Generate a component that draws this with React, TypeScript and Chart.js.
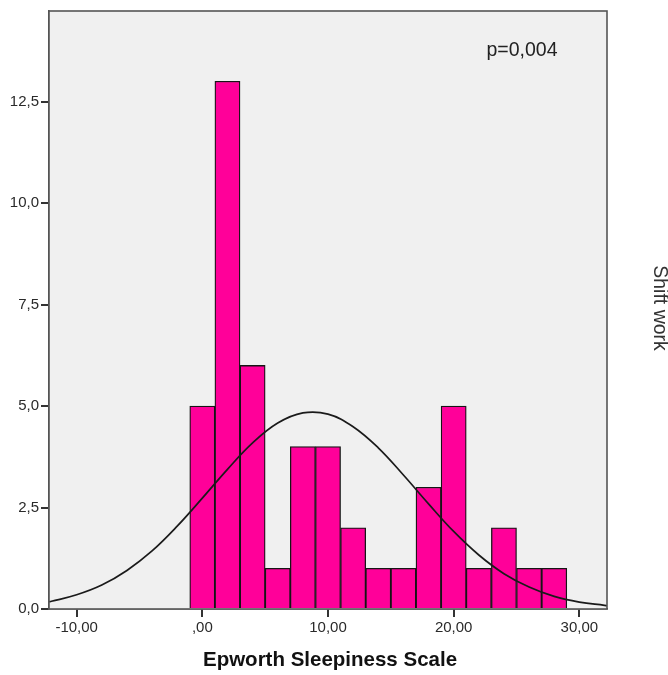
import React, { useEffect, useRef } from "react";
import { Chart, registerables } from "chart.js";

Chart.register(...registerables);

// Histogram bins (bin centers, width 2) and counts
const binCenters = [0, 2, 4, 6, 8, 10, 12, 14, 16, 18, 20, 22, 24, 26, 28];
const binCounts = [5, 13, 6, 1, 4, 4, 2, 1, 1, 3, 5, 1, 2, 1, 1];

// Normal curve
const curveX = [-12.2, -12, -10, -8, -6, -4, -2, 0, 2, 4, 6, 8, 10, 12, 14, 16, 18, 20, 22, 24, 26, 28, 30, 32, 32.2];
const curveY = [0.18, 0.19, 0.35, 0.59, 0.95, 1.43, 2.04, 2.73, 3.44, 4.09, 4.58, 4.83, 4.8, 4.49, 3.97, 3.3, 2.59, 1.91, 1.33, 0.87, 0.54, 0.31, 0.17, 0.09, 0.08];

const xTicks = [-10, 0, 10, 20, 30];
const yTicks = [0, 2.5, 5, 7.5, 10, 12.5];
const xMin = -12.2;
const xMax = 32.2;
const yMax = 14.73;

const xTitle = "Epworth Sleepiness Scale";
const sideLabel = "Shift work";
const pLabel = "p=0,004";

const FONT = "'Liberation Sans', Arial, sans-serif";

function fmtX(v: number): string {
  const s = Math.abs(v).toFixed(2).replace(".", ",");
  const t = Math.abs(v) < 1 ? s.replace(/^0/, "") : s;
  return (v < 0 ? "-" : "") + t;
}

export default function App() {
  const ref = useRef<HTMLCanvasElement | null>(null);

  useEffect(() => {
    if (!ref.current) return;
    const decor = {
      id: "decor",
      beforeDatasetsDraw(chart: any) {
        const { ctx, chartArea: a } = chart;
        ctx.save();
        ctx.fillStyle = "#F0F0F0";
        ctx.fillRect(a.left, a.top, a.right - a.left, a.bottom - a.top);
        ctx.restore();
      },
      afterDraw(chart: any) {
        const { ctx, chartArea: a } = chart;
        ctx.save();
        ctx.strokeStyle = "#555";
        ctx.lineWidth = 1.6;
        ctx.strokeRect(a.left, a.top, a.right - a.left, a.bottom - a.top);
        ctx.fillStyle = "#111";
        ctx.font = `bold 20.5px ${FONT}`;
        ctx.textAlign = "center";
        ctx.textBaseline = "middle";
        ctx.fillText(xTitle, 330, 660);
        ctx.fillStyle = "#222";
        ctx.font = `19.5px ${FONT}`;
        ctx.fillText(pLabel, 522, 51);
        ctx.translate(659, 308);
        ctx.rotate(Math.PI / 2);
        ctx.fillStyle = "#333";
        ctx.font = `19.5px ${FONT}`;
        ctx.fillText(sideLabel, 0, 0);
        ctx.restore();
      },
    };

    const chart = new Chart(ref.current, {
      type: "bar",
      data: {
        datasets: [
          {
            type: "line",
            data: curveX.map((x, i) => ({ x, y: curveY[i] })),
            borderColor: "#1a1a1a",
            borderWidth: 1.7,
            pointRadius: 0,
            tension: 0.4,
            fill: false,
            order: 0,
          } as any,
          {
            type: "bar",
            data: binCenters.map((x, i) => ({ x, y: binCounts[i] })),
            backgroundColor: "#FF0099",
            borderColor: "#151515",
            borderWidth: 1.3,
            barPercentage: 1,
            categoryPercentage: 1,
            order: 1,
          } as any,
        ],
      },
      options: {
        responsive: false,
        animation: false,
        layout: { padding: { left: 0, top: 8, right: 61, bottom: 0 } },
        plugins: { legend: { display: false }, tooltip: { enabled: false } },
        scales: {
          x: {
            type: "linear",
            offset: false,
            min: xMin,
            max: xMax,
            afterBuildTicks: (s: any) => {
              s.ticks = xTicks.map((v) => ({ value: v }));
            },
            afterFit: (s: any) => {
              s.height = 66;
            },
            grid: { offset: false, drawOnChartArea: false, drawTicks: true, tickLength: 8, color: "#333", lineWidth: 2 },
            border: { display: true, color: "#555", width: 1.6 },
            ticks: {
              padding: 2,
              color: "#2a2a2a",
              font: { family: FONT, size: 15 },
              maxRotation: 0,
              autoSkip: false,
              callback: (v: any) => fmtX(Number(v)),
            },
          },
          y: {
            type: "linear",
            min: 0,
            max: yMax,
            afterBuildTicks: (s: any) => {
              s.ticks = yTicks.map((v) => ({ value: v }));
            },
            afterFit: (s: any) => {
              s.width = 49;
            },
            grid: { drawOnChartArea: false, drawTicks: true, tickLength: 8, color: "#333", lineWidth: 2 },
            border: { display: true, color: "#555", width: 1.6 },
            ticks: {
              padding: 2,
              color: "#2a2a2a",
              font: { family: FONT, size: 15 },
              autoSkip: false,
              callback: (v: any) => Number(v).toFixed(1).replace(".", ","),
            },
          },
        },
      } as any,
      plugins: [decor],
    });
    return () => chart.destroy();
  }, []);

  return (
    <div style={{ position: "absolute", left: 0, top: 0, width: 668, height: 675, background: "#fff" }}>
      <canvas ref={ref} width={668} height={675} style={{ display: "block" }} />
    </div>
  );
}
